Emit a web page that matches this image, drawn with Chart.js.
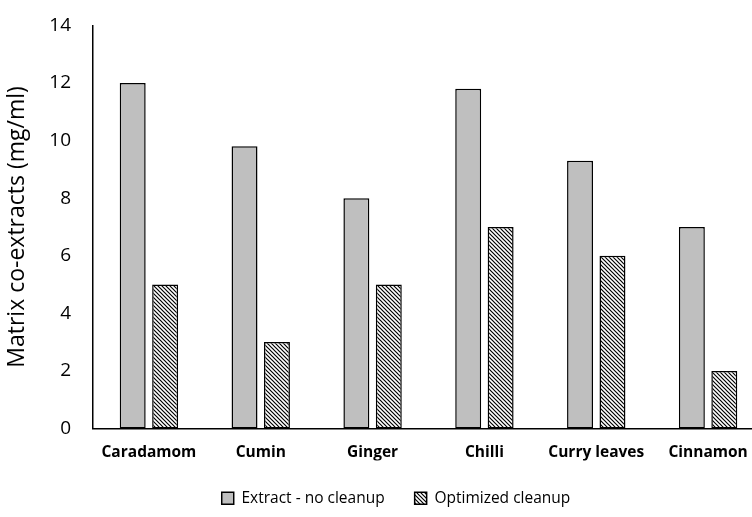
<!DOCTYPE html>
<html>
<head>
<meta charset="utf-8">
<script src="https://cdn.jsdelivr.net/npm/chart.js@4.4.1/dist/chart.umd.min.js"></script>
<style>
    html, body { margin: 0; padding: 0; background: #fff; overflow: hidden; }
    #wrap { width: 790px; height: 525px; margin-top: -8px; }
</style>
</head>
<body>
<div id="wrap"><canvas id="chart" width="790" height="525"></canvas></div>
<script>
const categories = ['Caradamom', 'Cumin', 'Ginger', 'Chilli', 'Curry leaves', 'Cinnamon'];
const extractValues = [12, 9.8, 8, 11.8, 9.3, 7];
const cleanupValues = [5, 3, 5, 7, 6, 2];
const yTicks = [0, 2, 4, 6, 8, 10, 12, 14];

// motivo a righe diagonali per la serie "Optimized cleanup"
function makeHatch() {
    const c = document.createElement('canvas');
    c.width = 4;
    c.height = 4;
    const g = c.getContext('2d');
    g.fillStyle = '#ffffff';
    g.fillRect(0, 0, 4, 4);
    g.strokeStyle = '#000000';
    g.lineWidth = 1.2;
    g.beginPath();
    g.moveTo(-1, -1); g.lineTo(5, 5);
    g.moveTo(-1, 3); g.lineTo(1, 5);
    g.moveTo(3, -1); g.lineTo(5, 1);
    g.stroke();
    return g.createPattern(c, 'repeat');
}

const ctx = document.getElementById('chart').getContext('2d');
const hatch = makeHatch();
const font = "'Open Sans', 'Noto Sans', sans-serif";

// la legenda nel riferimento è centrata un po' più a destra
const legendShift = {
    id: 'legendShift',
    afterLayout: (chart) => {
        chart.legend.left += 14;
        chart.legend.right += 14;
    }
};

new Chart(ctx, {
    type: 'bar',
    data: {
        labels: categories,
        datasets: [{
            label: 'Extract - no cleanup',
            data: extractValues,
            backgroundColor: '#bfbfbf',
            borderColor: '#000000',
            borderWidth: 1.5,
            borderSkipped: false
        }, {
            label: 'Optimized cleanup',
            data: cleanupValues,
            backgroundColor: hatch,
            borderColor: '#000000',
            borderWidth: 1.5,
            borderSkipped: false
        }]
    },
    options: {
        responsive: false,
        animation: false,
        layout: { padding: { top: 0, right: 26, left: 0, bottom: 1 } },
        datasets: {
            bar: { barPercentage: 0.8, categoryPercentage: 0.58 }
        },
        plugins: {
            tooltip: { enabled: false },
            legend: {
                position: 'bottom',
                labels: {
                    color: '#000',
                    font: { family: font, size: 15.5 },
                    boxWidth: 12,
                    boxHeight: 12,
                    padding: 30,
                    useBorderRadius: false
                }
            }
        },
        scales: {
            x: {
                grid: { display: false, drawTicks: false },
                border: { color: '#000', width: 1.5 },
                afterFit: (axis) => { axis.height = 32; },
                ticks: {
                    color: '#000',
                    padding: 15,
                    maxRotation: 0,
                    font: { family: font, size: 15.5, weight: 'bold' }
                }
            },
            y: {
                min: 0,
                max: 14,
                afterBuildTicks: (axis) => { axis.ticks = yTicks.map(v => ({ value: v })); },
                afterFit: (axis) => { axis.width = 93; },
                grid: { display: false, drawTicks: false },
                border: { color: '#000', width: 1.5 },
                ticks: {
                    color: '#000',
                    padding: 22,
                    font: { family: font, size: 19 }
                },
                title: {
                    display: true,
                    text: 'Matrix co-extracts (mg/ml)',
                    color: '#000',
                    padding: { bottom: 2 },
                    font: { family: font, size: 23 }
                }
            }
        }
    },
    plugins: [legendShift]
});
</script>
</body>
</html>
